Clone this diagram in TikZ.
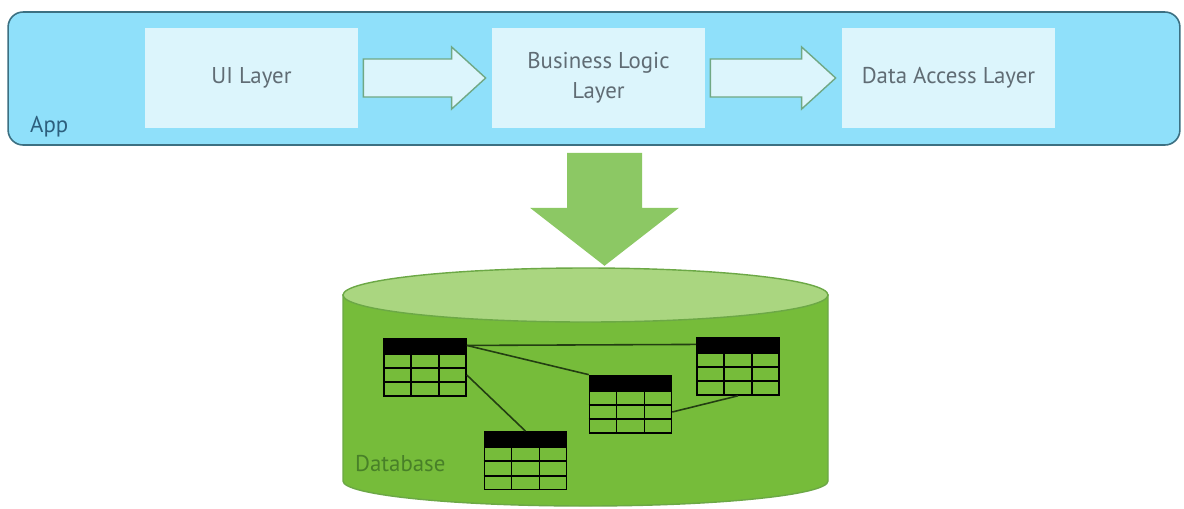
\documentclass[tikz,border=0pt]{standalone}
\usepackage{fontspec}
\setmainfont{PT Sans}
\usepackage{tikz}
\usetikzlibrary{calc}
\definecolor{appfill}{RGB}{143,224,250}
\definecolor{appline}{RGB}{60,112,130}
\definecolor{applbltxt}{RGB}{45,95,125}
\definecolor{layerfill}{RGB}{220,245,252}
\definecolor{arrline}{RGB}{112,168,132}
\definecolor{txtgray}{RGB}{96,108,116}
\definecolor{downfill}{RGB}{140,200,100}
\definecolor{dbbody}{RGB}{118,188,58}
\definecolor{dbtopfill}{RGB}{170,214,128}
\definecolor{dbline}{RGB}{108,168,70}
\definecolor{dbtext}{RGB}{72,128,40}
\definecolor{linkgreen}{RGB}{35,62,18}

\begin{document}
\begin{tikzpicture}[x=0.02cm, y=-0.02cm,
	appbox/.style={draw=appline, fill=appfill, line width=0.9pt, rounded corners=0.3cm,
		minimum width=23.44cm, minimum height=2.66cm},
	layer/.style={fill=layerfill, minimum width=4.26cm, minimum height=2cm, text=txtgray,
		align=center, font=\fontsize{13}{17}\selectfont},
	layarrow/.style={draw=arrline, fill=layerfill, line width=0.8pt},
	tbl/.style={draw=black, line width=0.9pt, minimum width=1.64cm, minimum height=0.84cm, inner sep=0pt},
	tblhead/.style={fill=black, draw=black, line width=0.9pt, minimum width=1.64cm, minimum height=0.28cm, inner sep=0pt},
	link/.style={draw=linkgreen, line width=0.9pt}]
\fill[white] (0,0) rectangle (1184,508);
\useasboundingbox (0,0) rectangle (1184,508);
% app and its layers
\node[appbox] (app) at (594,78.5) {};
\node[anchor=south west, text=applbltxt, font=\fontsize{13}{15}\selectfont] (applbl) at (24,143) {App};
\node[layer] (ui) at (251.5,78) {UI Layer};
\node[layer] (logic) at (598.5,78) {Business Logic\\Layer};
\node[layer] (data) at (948.5,78) {Data Access Layer};
\foreach \a/\b in {ui/logic, logic/data}
	\draw[layarrow] ($(\a.east)+(5,-19)$) -- ($(\b.west)+(-40,-19)$) -- ($(\b.west)+(-40,-31)$)
		-- ($(\b.west)+(-6,0)$) -- ($(\b.west)+(-40,31)$) -- ($(\b.west)+(-40,19)$)
		-- ($(\a.east)+(5,19)$) -- cycle;
% database
\coordinate (dn) at ($(app.south -| logic.south)+(6,7)$);
\fill[downfill] ($(dn)+(-37.5,0)$) -- ++(0,55) -- ++(-37,0) -- ($(dn)+(0,113)$)
	-- ($(dn)+(74.5,55)$) -- ($(dn)+(37.5,55)$) -- ($(dn)+(37.5,0)$) -- cycle;
\filldraw[fill=dbbody, draw=dbline, line width=0.8pt] (343,295) -- (343,481)
	arc[start angle=180, end angle=0, x radius=242.5, y radius=25] -- (828,295) -- cycle;
\filldraw[fill=dbtopfill, draw=dbline, line width=0.8pt] (585.5,295) ellipse[x radius=242.5, y radius=27];
\node[anchor=west, text=dbtext, font=\fontsize{13}{15}\selectfont] (dblbl) at (349,464) {Database};
% tables
\foreach \n/\x/\y in {t1/425/375, t2/738/374, t3/630.5/412, t4/525.5/468.5} {
	\node[tbl] (\n) at (\x,\y) {};
	\node[tblhead, anchor=south] (\n h) at (\n.north) {};
	\foreach \i in {1,2} {
		\draw[line width=0.9pt] ($(\n.north west)!\i/3!(\n.north east)$) -- ($(\n.south west)!\i/3!(\n.south east)$);
		\draw[line width=0.9pt] ($(\n.north west)!\i/3!(\n.south west)$) -- ($(\n.north east)!\i/3!(\n.south east)$);
	}
}
\draw[link] (t1h.east) to (t2h.west);
\draw[link] (t1h.east) to (t3h.north west);
\draw[link] (t1.east) to (t4h.north);
\draw[link] (t3.east) to (t2.south);
\end{tikzpicture}
\end{document}
